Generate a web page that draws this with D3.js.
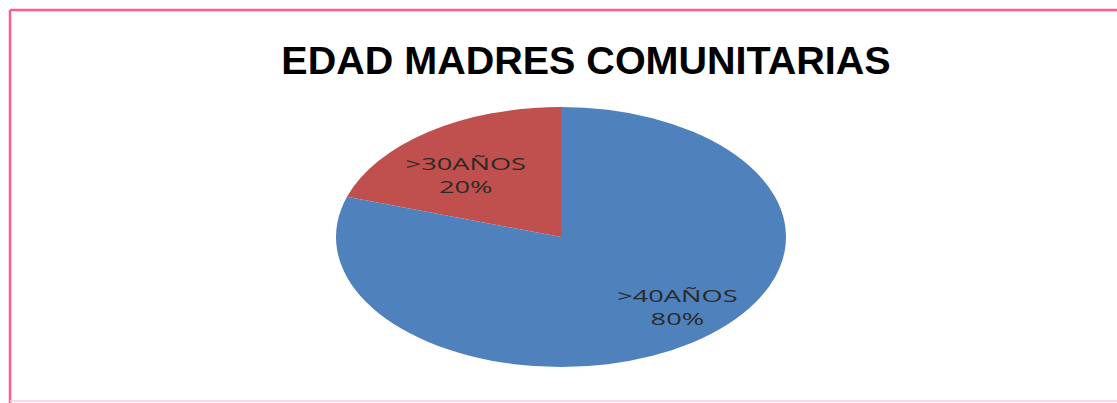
<!DOCTYPE html>
<html>
<head>
<meta charset="utf-8">
<script src="https://cdn.jsdelivr.net/npm/d3@7"></script>
<style>
  body { margin: 0; background: #fff; }
</style>
</head>
<body>
<div class="container"></div>
<script>
const categories = ['>30AÑOS', '>40AÑOS'];
const values = [20, 80];
const colors = ['#c0504d', '#4f81bd'];
const title = 'EDAD MADRES COMUNITARIAS';

const width = 1117, height = 403;

const svg = d3.select('.container')
    .append('svg')
    .attr('width', width)
    .attr('height', height);

// pink frame (right side is cut off in the picture)
svg.append('line')
    .attr('x1', 10).attr('y1', 10).attr('x2', width).attr('y2', 10)
    .attr('stroke', '#ff5c8f').attr('stroke-width', 2.5);
svg.append('line')
    .attr('x1', 10).attr('y1', 10).attr('x2', 10).attr('y2', height)
    .attr('stroke', '#ff5c8f').attr('stroke-width', 2.5);
svg.append('line')
    .attr('x1', 10).attr('y1', 401).attr('x2', width).attr('y2', 401)
    .attr('stroke', '#ffd6e3').attr('stroke-width', 2);

svg.append('text')
    .attr('x', 586)
    .attr('y', 74)
    .attr('text-anchor', 'middle')
    .attr('font-family', 'Liberation Sans, Arial, sans-serif')
    .attr('font-weight', 'bold')
    .attr('font-size', 39.5)
    .attr('fill', '#000')
    .text(title);

// pie drawn on a unit circle, then squashed into an ellipse
const cx = 561, cy = 237, rx = 225, ry = 130;
const r = 100;

const data = categories.map((c, i) => ({ name: c, value: values[i], color: colors[i] }));

// red slice goes counter-clockwise from 12 o'clock
const pie = d3.pie()
    .value(d => d.value)
    .sort(null)
    .startAngle(-0.2 * 2 * Math.PI)
    .endAngle(0.8 * 2 * Math.PI);

const arc = d3.arc().innerRadius(0).outerRadius(r);

const g = svg.append('g')
    .attr('transform', `translate(${cx},${cy}) scale(${rx / r},${ry / r})`);

const arcs = pie(data);

g.selectAll('path')
    .data(arcs)
    .enter()
    .append('path')
    .attr('d', arc)
    .attr('fill', d => d.data.color);

// label placement: fraction of radius along x / y
const labelPos = [
    { fx: 0.72, fy: 0.59 },
    { fx: 0.88, fy: 0.67 }
];

const labels = svg.append('g');
arcs.forEach((d, i) => {
    const c = d3.arc().innerRadius(r).outerRadius(r).centroid(d);
    const x = cx + c[0] / r * rx * labelPos[i].fx;
    const y = cy + c[1] / r * ry * labelPos[i].fy;
    const t = labels.append('text')
        .attr('transform', `translate(${x},${y}) scale(1.6,1)`)
        .attr('text-anchor', 'middle')
        .attr('font-family', 'Open Sans, Lato, sans-serif')
        .attr('font-size', 17)
        .attr('fill', '#2a2a2a');
    t.append('tspan').attr('x', 0).attr('y', -5).text(d.data.name);
    t.append('tspan').attr('x', 0).attr('y', 18).text(d.data.value + '%');
});
</script>
</body>
</html>
